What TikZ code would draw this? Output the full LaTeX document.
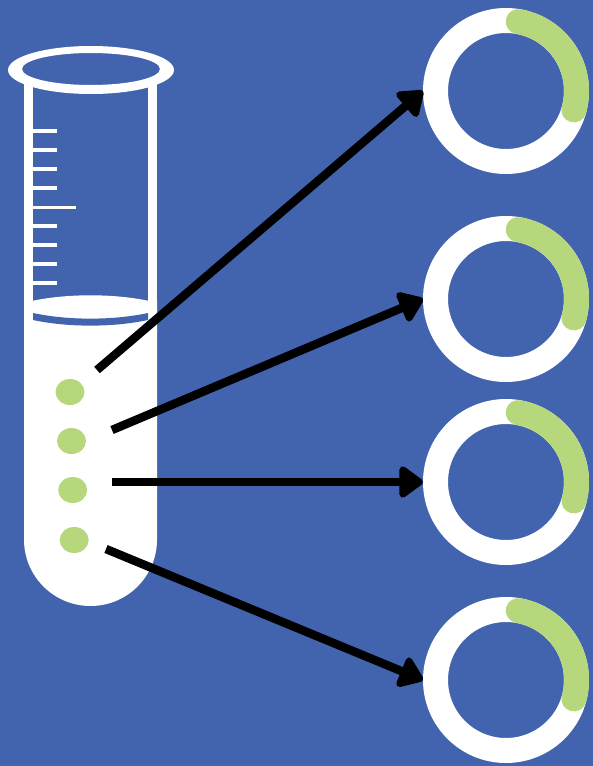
\documentclass[tikz,border=0pt]{standalone}
\usetikzlibrary{arrows.meta,shapes.geometric}
\definecolor{bgblue}{HTML}{4264AE}
\definecolor{leaf}{HTML}{B7D77D}
\tikzset{
  x=1pt,y=-1pt,
  ring/.style={circle,draw=white,line width=25pt,minimum size=141pt,inner sep=0pt,outer sep=12.5pt,fill=none},
  seed/.style={ellipse,fill=leaf,minimum width=29pt,minimum height=26pt,inner sep=0pt},
  tick/.style={draw=white,line width=3.2pt},
  link/.style={draw=black,line width=8.5pt,-{Triangle[length=26pt,width=36pt,line width=8pt,round]}},
  arcg/.style={draw=leaf,line width=25pt,line cap=round},
}
\begin{document}
\begin{tikzpicture}
\useasboundingbox (0,0) rectangle (593,766);
\fill[bgblue] (0,0) rectangle (593,766);
% tube
\fill[white] (33,300.7) .. controls (68,293.5) and (113,293.5) .. (148,300.7) -- (157,300.7)
  -- (157,539.5) arc[start angle=0,end angle=180,x radius=66.5,y radius=66.5] -- (24,300.7) -- cycle;
\fill[white] (24,80) rectangle (33,320);
\fill[white] (148,80) rectangle (157,320);
\fill[bgblue] (33,313) .. controls (68,320.5) and (113,320.5) .. (148,313) -- (148,320)
  .. controls (113,327.5) and (68,327.5) .. (33,320) -- cycle;
\fill[white,even odd rule] (91,70) ellipse[x radius=83,y radius=24] (91,69) ellipse[x radius=69,y radius=16];
% scale
\foreach \yy in {131,150,169,188,226,245,264,283} \draw[tick] (33,\yy) -- (56.5,\yy);
\draw[tick] (33,207.5) -- (76,207.5);
% seeds
\node[seed] (s1) at (70,392) {};
\node[seed] (s2) at (71.5,441) {};
\node[seed] (s3) at (72.7,490) {};
\node[seed] (s4) at (74.2,540) {};
% rings
\foreach \n/\yy in {r1/91,r2/299,r3/482,r4/680}{
  \node[ring] (\n) at (506,\yy) {};
  \draw[arcg] (\n.center) ++(80:70.5 and -70.5) arc[start angle=-80,end angle=15.6,radius=70.5];
}
% connectors
\coordinate (a1) at (97,370);
\coordinate (a2) at (112,430);
\coordinate (a3) at (112,482);
\coordinate (a4) at (106,549);
\draw[link] (a1) -- (r1.west);
\draw[link] (a2) -- (r2.west);
\draw[link] (a3) -- (r3.west);
\draw[link] (a4) -- (r4.west);
\end{tikzpicture}
\end{document}
